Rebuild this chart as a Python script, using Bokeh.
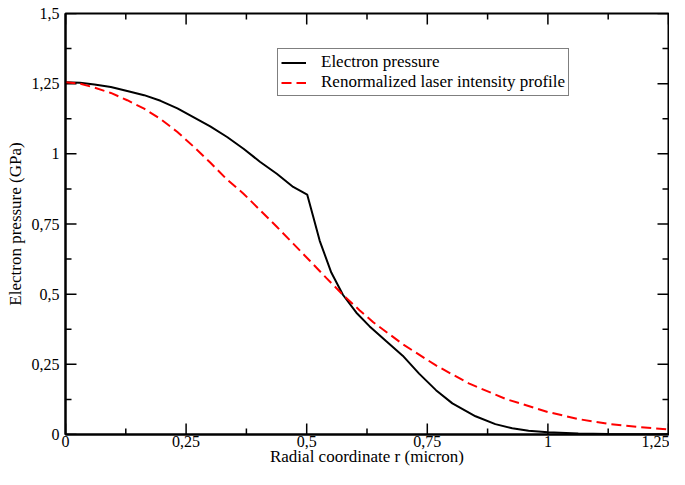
import math
from bokeh.plotting import figure
from bokeh.models import FixedTicker, Legend, LegendItem, Range1d
from bokeh.embed import file_html
from bokeh.resources import INLINE

# Electron pressure (GPa) vs radial coordinate r (micron)
r_pressure = [0.0, 0.03, 0.06, 0.094, 0.128, 0.163, 0.197, 0.232, 0.266, 0.300,
              0.335, 0.369, 0.403, 0.438, 0.472, 0.501, 0.513, 0.527, 0.551, 0.575,
              0.603, 0.630, 0.665, 0.699, 0.733, 0.768, 0.802, 0.850, 0.891, 0.926,
              0.960, 1.0, 1.063, 1.125, 1.25]
pressure = [1.255, 1.253, 1.247, 1.238, 1.224, 1.209, 1.189, 1.162, 1.130, 1.098,
            1.060, 1.018, 0.972, 0.929, 0.882, 0.855, 0.779, 0.690, 0.577, 0.498,
            0.434, 0.386, 0.332, 0.281, 0.217, 0.158, 0.111, 0.065, 0.037, 0.022,
            0.013, 0.008, 0.004, 0.002, 0.001]

# Renormalized laser intensity profile
r_laser = [0.0, 0.03, 0.06, 0.094, 0.128, 0.163, 0.197, 0.232, 0.266, 0.300,
           0.335, 0.369, 0.403, 0.438, 0.472, 0.507, 0.541, 0.575, 0.610, 0.638,
           0.699, 0.768, 0.836, 0.912, 1.0, 1.063, 1.125, 1.19, 1.25]
laser = [1.255, 1.250, 1.236, 1.217, 1.191, 1.161, 1.124, 1.078, 1.025, 0.969,
         0.908, 0.858, 0.800, 0.740, 0.680, 0.618, 0.557, 0.498, 0.442, 0.400,
         0.322, 0.246, 0.182, 0.127, 0.080, 0.055, 0.038, 0.026, 0.018]

x_ticks = [0, 0.25, 0.5, 0.75, 1.0, 1.25]
x_tick_labels = ["0", "0,25", "0,5", "0,75", "1", "1,25"]
x_minor = [0.125, 0.375, 0.625, 0.875, 1.125]
y_ticks = [0, 0.25, 0.5, 0.75, 1.0, 1.25, 1.5]
y_tick_labels = ["0", "0,25", "0,5", "0,75", "1", "1,25", "1,5"]
y_minor = [0.125, 0.375, 0.625, 0.875, 1.125, 1.375]

X_MIN, X_MAX = x_ticks[0], x_ticks[-1]
Y_MIN, Y_MAX = y_ticks[0], y_ticks[-1]

FONT = "Liberation Serif"

p = figure(width=669, height=469, output_backend="svg", toolbar_location=None,
           x_range=Range1d(X_MIN, X_MAX), y_range=Range1d(Y_MIN, Y_MAX),
           min_border_left=65, min_border_right=1, min_border_top=13,
           min_border_bottom=35)
p.grid.visible = False
p.outline_line_color = "black"
p.outline_line_width = 2
p.background_fill_color = "white"
p.border_fill_color = "white"

def style_axis(ax):
    ax.axis_line_color = "black"
    ax.axis_line_width = 2
    ax.major_tick_in = 0
    ax.major_tick_out = 0
    ax.minor_tick_in = 0
    ax.minor_tick_out = 0
    ax.major_label_text_font = FONT
    ax.major_label_text_font_size = "16px"
    ax.major_label_text_color = "black"
    ax.axis_label_text_font = FONT
    ax.axis_label_text_font_size = "17px"
    ax.axis_label_text_font_style = "normal"
    ax.axis_label_text_color = "black"

xa = p.xaxis[0]
xa.ticker = FixedTicker(ticks=x_ticks, minor_ticks=x_minor)
xa.major_label_overrides = {t: l for t, l in zip(x_ticks, x_tick_labels)}
xa.axis_label = "Radial coordinate r (micron)"
style_axis(xa)
xa.major_label_standoff = 1
xa.axis_label_standoff = -3

ya = p.yaxis[0]
ya.ticker = FixedTicker(ticks=y_ticks, minor_ticks=y_minor)
ya.major_label_overrides = {t: l for t, l in zip(y_ticks, y_tick_labels)}
ya.axis_label = "Electron pressure (GPa)"
style_axis(ya)
ya.major_label_standoff = 6
ya.axis_label_standoff = 4

# inward tick marks on all four sides of the frame (fixed pixel lengths)
TICK = dict(line_color="black", line_width=1.5, length_units="screen")
p.ray(x=x_ticks, y=[Y_MIN] * len(x_ticks), length=11, angle=math.pi / 2, **TICK)
p.ray(x=x_minor, y=[Y_MIN] * len(x_minor), length=6, angle=math.pi / 2, **TICK)
p.ray(x=x_ticks, y=[Y_MAX] * len(x_ticks), length=11, angle=-math.pi / 2, **TICK)
p.ray(x=x_minor, y=[Y_MAX] * len(x_minor), length=6, angle=-math.pi / 2, **TICK)
p.ray(x=[X_MIN] * len(y_ticks), y=y_ticks, length=11, angle=0, **TICK)
p.ray(x=[X_MIN] * len(y_minor), y=y_minor, length=6, angle=0, **TICK)
p.ray(x=[X_MAX] * len(y_ticks), y=y_ticks, length=11, angle=math.pi, **TICK)
p.ray(x=[X_MAX] * len(y_minor), y=y_minor, length=6, angle=math.pi, **TICK)

l1 = p.line(r_pressure, pressure, line_color="black", line_width=2)
l2 = p.line(r_laser, laser, line_color="#ff0000", line_width=2, line_dash="10 5")

legend = Legend(items=[LegendItem(label="Electron pressure", renderers=[l1]),
                       LegendItem(label="Renormalized laser intensity profile", renderers=[l2])],
                location=(212, 338))
legend.label_text_font = FONT
legend.label_text_font_size = "17px"
legend.label_text_color = "black"
legend.border_line_color = "black"
legend.border_line_width = 1
legend.background_fill_color = "white"
legend.background_fill_alpha = 1
legend.padding = 3
legend.spacing = 0
legend.margin = 0
legend.glyph_width = 25
legend.glyph_height = 19
legend.label_height = 19
legend.label_standoff = 15
p.add_layout(legend, "center")

open("out.html", "w").write(file_html(p, INLINE))
